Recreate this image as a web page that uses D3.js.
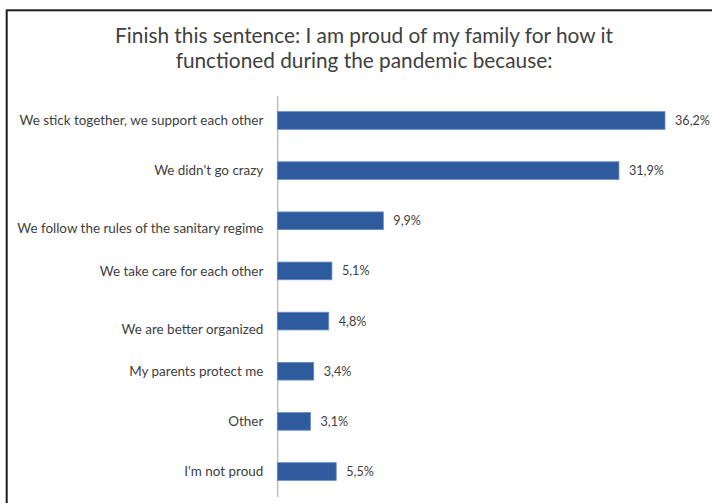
<!DOCTYPE html>
<html>
<head>
<meta charset="utf-8">
<script src="https://cdn.jsdelivr.net/npm/d3@7"></script>
<style>
  html, body { margin: 0; padding: 0; background: #fff; }
  text { font-family: Lato, "Open Sans", sans-serif; fill: #404040; }
</style>
</head>
<body>
<div id="chart-area"></div>
<script>
var categories = [
    "We stick together, we support each other",
    "We didn't go crazy",
    "We follow the rules of the sanitary regime",
    "We take care for each other",
    "We are better organized",
    "My parents protect me",
    "Other",
    "I'm not proud"
];
var percents = [36.2, 31.9, 9.9, 5.1, 4.8, 3.4, 3.1, 5.5];
var valueLabels = ["36,2%", "31,9%", "9,9%", "5,1%", "4,8%", "3,4%", "3,1%", "5,5%"];
var titleLines = [
    "Finish this sentence: I am proud of my family for how it",
    "functioned during the pandemic because:"
];

// a couple of labels sit a bit lower than their bar in the original
var labelShift = { "We follow the rules of the sanitary regime": 8, "We are better organized": 8 };

var width = 712, height = 503;
var axisX = 277.3;

var svg = d3.select("#chart-area")
    .append("svg")
    .attr("width", width)
    .attr("height", height)
    .style("display", "block");

// the original used Calibri; scale the substitute so text widths come out the same
function fitSize(sample, targetWidth, baseSize) {
    var t = svg.append("text").attr("font-size", baseSize + "px").text(sample);
    var w = t.node().getComputedTextLength();
    t.remove();
    return w > 0 ? baseSize * targetWidth / w : baseSize;
}
var titleSize = fitSize(titleLines[0], 498, 21);
var labelSize = fitSize(categories[0], 244, 14);
var valueSize = fitSize(valueLabels[0], 35, 14);

// frame (runs off the right and bottom edges)
svg.append("rect")
    .attr("x", 6.7).attr("y", 10.3)
    .attr("width", 740).attr("height", 520)
    .attr("fill", "none")
    .attr("stroke", "#1e1e1e")
    .attr("stroke-width", 2);

var title = svg.append("text")
    .attr("text-anchor", "middle")
    .attr("font-size", titleSize + "px")
    .attr("fill", "#3a3a3a");
title.selectAll("tspan")
    .data(titleLines)
    .enter()
    .append("tspan")
    .attr("x", 364)
    .attr("y", (d, i) => 42.7 + i * 25.6)
    .text(d => d);

var xScale = d3.scaleLinear().domain([0, 40]).range([axisX, axisX + 40 * 10.71]);
var yScale = d3.scaleBand().domain(categories).range([95.4, 496.6]).paddingInner(0.647).paddingOuter(0.3235);

var yAxis = svg.append("g")
    .attr("transform", `translate(${axisX},0)`)
    .call(d3.axisLeft(yScale).tickSize(0).tickPadding(14));
yAxis.select(".domain").attr("stroke", "#a6a6a6").attr("stroke-width", 1);
yAxis.selectAll(".tick text")
    .attr("font-family", "Lato, 'Open Sans', sans-serif")
    .attr("font-size", labelSize + "px")
    .attr("fill", "#404040")
    .attr("dy", d => (0.34 * labelSize + (labelShift[d] || 0)) + "px");

svg.selectAll("rect.bar")
    .data(percents)
    .enter()
    .append("rect")
    .attr("class", "bar")
    .attr("x", xScale(0))
    .attr("y", (d, i) => yScale(categories[i]))
    .attr("width", d => xScale(d) - xScale(0))
    .attr("height", yScale.bandwidth())
    .attr("fill", "#2e5a9e")
    .attr("stroke", "#6a8cc9")
    .attr("stroke-width", 0.8);

svg.selectAll("text.value")
    .data(percents)
    .enter()
    .append("text")
    .attr("class", "value")
    .attr("x", d => xScale(d) + 10)
    .attr("y", (d, i) => yScale(categories[i]) + yScale.bandwidth() / 2)
    .attr("dy", "0.36em")
    .attr("font-size", valueSize + "px")
    .text((d, i) => valueLabels[i]);
</script>
</body>
</html>
